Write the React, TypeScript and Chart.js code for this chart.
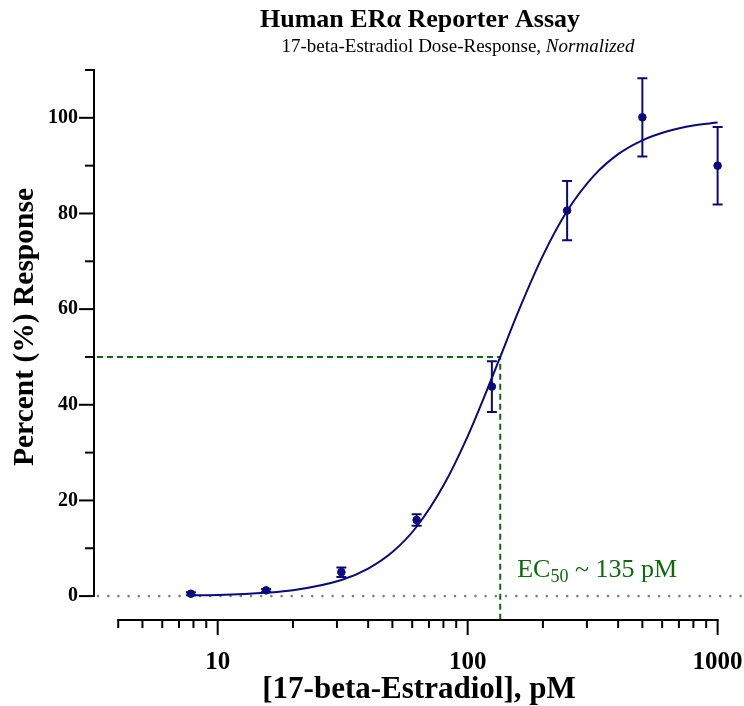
import { useEffect, useRef } from 'react';
import { Chart, registerables } from 'chart.js';

Chart.register(...registerables);

const FONT = "'Liberation Serif', 'Times New Roman', serif";

// Measured data (17-beta-Estradiol dose in pM, percent response, SD)
const doses = [7.8125, 15.625, 31.25, 62.5, 125, 250, 500, 1000];
const responses = [0.5, 1.2, 5.0, 15.9, 43.8, 80.6, 100.1, 90.0];
const errors = [0.3, 0.3, 1.0, 1.2, 5.3, 6.2, 8.2, 8.1];

// Fitted curve
const curveDoses = [7.8125, 10, 15.625, 20, 31.25, 40, 50, 62.5, 80, 100, 125, 135, 160, 200, 250, 320, 400, 500, 630, 800, 1000];
const curveValues = [0.15, 0.25, 0.7, 1.2, 3.35, 5.75, 9.2, 14.5, 23.1, 33.4, 45.6, 50, 59.7, 71.2, 80.5, 87.9, 92.4, 95.3, 97.2, 98.4, 99.0];

// Axis ticks
const xTickValues = [4, 5, 6, 7, 8, 9, 10, 20, 30, 40, 50, 60, 70, 80, 90, 100, 200, 300, 400, 500, 600, 700, 800, 900, 1000];
const xLabelValues = [10, 100, 1000];
const yTickValues = [0, 10, 20, 30, 40, 50, 60, 70, 80, 90, 100, 110];
const yLabelValues = [0, 20, 40, 60, 80, 100];

const ec50 = 135;
const ec50Response = 50;

const titleText = 'Human ERα Reporter Assay';
const subtitleMain = '17-beta-Estradiol Dose-Response, ';
const subtitleItalic = 'Normalized';
const xTitle = '[17-beta-Estradiol], pM';
const yTitle = 'Percent (%) Response';

const NAVY = '#0a0a80';
const GREEN = '#0b6b0b';

const decorPlugin = {
  id: 'decor',
  beforeDatasetsDraw(chart: any) {
    const { ctx, chartArea, scales } = chart;
    const x = scales.x;
    const y = scales.y;
    ctx.save();
    // zero reference line (dotted grey)
    ctx.strokeStyle = '#7f7f7f';
    ctx.lineWidth = 2.6;
    ctx.lineCap = 'round';
    ctx.setLineDash([0, 10.2]);
    const y0 = y.getPixelForValue(0);
    ctx.beginPath();
    ctx.moveTo(chartArea.left + 4, y0);
    ctx.lineTo(chartArea.right + 3, y0);
    ctx.stroke();
    // EC50 guides
    ctx.strokeStyle = GREEN;
    ctx.lineWidth = 2;
    ctx.lineCap = 'butt';
    ctx.setLineDash([6, 4]);
    const xe = x.getPixelForValue(ec50);
    const ye = y.getPixelForValue(ec50Response);
    ctx.beginPath();
    ctx.moveTo(chartArea.left + 3, ye);
    ctx.lineTo(xe, ye);
    ctx.lineTo(xe, chartArea.bottom);
    ctx.stroke();
    ctx.restore();
  },
  afterDatasetsDraw(chart: any) {
    const { ctx, scales } = chart;
    const x = scales.x;
    const y = scales.y;
    ctx.save();
    ctx.strokeStyle = NAVY;
    ctx.lineWidth = 2;
    ctx.setLineDash([]);
    doses.forEach((d, i) => {
      const px = x.getPixelForValue(d);
      const top = y.getPixelForValue(responses[i] + errors[i]);
      const bot = y.getPixelForValue(responses[i] - errors[i]);
      ctx.beginPath();
      ctx.moveTo(px, top);
      ctx.lineTo(px, bot);
      ctx.moveTo(px - 5, top);
      ctx.lineTo(px + 5, top);
      ctx.moveTo(px - 5, bot);
      ctx.lineTo(px + 5, bot);
      ctx.stroke();
    });
    ctx.restore();
  },
  afterDraw(chart: any) {
    const { ctx, chartArea, scales } = chart;
    const x = scales.x;
    const y = scales.y;
    ctx.save();
    ctx.strokeStyle = '#000';
    ctx.lineWidth = 2;
    ctx.setLineDash([]);
    ctx.lineCap = 'butt';
    // y axis line
    const ax = chartArea.left;
    ctx.beginPath();
    ctx.moveTo(ax, y.getPixelForValue(0) + 1);
    ctx.lineTo(ax, y.getPixelForValue(110) - 1);
    ctx.stroke();
    yTickValues.forEach((v) => {
      const py = y.getPixelForValue(v);
      const len = v % 20 === 0 ? 15 : 9;
      ctx.beginPath();
      ctx.moveTo(ax, py);
      ctx.lineTo(ax - len, py);
      ctx.stroke();
    });
    // x axis line
    const ay = chartArea.bottom;
    ctx.beginPath();
    ctx.moveTo(x.getPixelForValue(4) - 1, ay);
    ctx.lineTo(x.getPixelForValue(1000) + 1, ay);
    ctx.stroke();
    xTickValues.forEach((v) => {
      const px = x.getPixelForValue(v);
      const len = xLabelValues.includes(v) ? 15 : 8;
      ctx.beginPath();
      ctx.moveTo(px, ay);
      ctx.lineTo(px, ay + len);
      ctx.stroke();
    });
    // EC50 label
    ctx.fillStyle = GREEN;
    ctx.textBaseline = 'alphabetic';
    ctx.textAlign = 'left';
    let lx = x.getPixelForValue(ec50) + 17;
    const ly = y.getPixelForValue(0) - 19;
    ctx.font = `26px ${FONT}`;
    ctx.fillText('EC', lx, ly);
    lx += ctx.measureText('EC').width;
    ctx.font = `18px ${FONT}`;
    ctx.fillText('50', lx, ly + 5);
    lx += ctx.measureText('50').width;
    ctx.font = `26px ${FONT}`;
    ctx.fillText(' ~ 135 pM', lx, ly);
    // titles
    ctx.fillStyle = '#000';
    ctx.textAlign = 'center';
    ctx.textBaseline = 'middle';
    ctx.font = `bold 26px ${FONT}`;
    ctx.fillText(titleText, 420, 20);
    ctx.font = `19px ${FONT}`;
    const w1 = ctx.measureText(subtitleMain).width;
    ctx.font = `italic 19px ${FONT}`;
    const w2 = ctx.measureText(subtitleItalic).width;
    const sx = 458 - (w1 + w2) / 2;
    ctx.textAlign = 'left';
    ctx.font = `19px ${FONT}`;
    ctx.fillText(subtitleMain, sx, 47);
    ctx.font = `italic 19px ${FONT}`;
    ctx.fillText(subtitleItalic, sx + w1, 47);
    // axis titles
    ctx.textAlign = 'center';
    ctx.font = `bold 31px ${FONT}`;
    ctx.fillText(xTitle, 419, 690);
    ctx.translate(25, 327);
    ctx.rotate(-Math.PI / 2);
    ctx.font = `bold 29.5px ${FONT}`;
    ctx.fillText(yTitle, 0, 0);
    ctx.restore();
  },
};

export default function App() {
  const canvasRef = useRef<HTMLCanvasElement | null>(null);

  useEffect(() => {
    document.body.style.margin = '0';
    const canvas = canvasRef.current;
    if (!canvas) return;
    const chart = new Chart(canvas, {
      type: 'scatter',
      data: {
        datasets: [
          {
            type: 'line',
            label: 'Fit',
            data: curveDoses.map((d, i) => ({ x: d, y: curveValues[i] })),
            borderColor: NAVY,
            borderWidth: 2,
            pointRadius: 0,
            fill: false,
            cubicInterpolationMode: 'monotone',
            order: 2,
          } as any,
          {
            type: 'scatter',
            label: 'Data',
            data: doses.map((d, i) => ({ x: d, y: responses[i] })),
            backgroundColor: NAVY,
            borderColor: NAVY,
            pointRadius: 3.8,
            pointHoverRadius: 3.8,
            order: 1,
          },
        ],
      },
      options: {
        animation: false,
        responsive: true,
        maintainAspectRatio: false,
        events: [],
        layout: { padding: { top: 70, right: 4, left: 0, bottom: 0 } },
        plugins: {
          legend: { display: false },
          title: { display: false },
          tooltip: { enabled: false },
        },
        scales: {
          x: {
            type: 'logarithmic',
            min: 3.2,
            max: 1220,
            border: { display: false },
            grid: { drawOnChartArea: false, drawTicks: true, tickLength: 15, tickColor: 'transparent' },
            afterBuildTicks: (scale: any) => {
              scale.ticks = xTickValues.map((v) => ({ value: v }));
            },
            afterFit: (scale: any) => {
              scale.height = 86;
              scale.paddingLeft = 0;
              scale.paddingRight = 0;
            },
            ticks: {
              autoSkip: false,
              maxRotation: 0,
              padding: 13,
              color: '#000',
              font: { family: FONT, size: 25, weight: 'bold' },
              callback: (value: any) => (xLabelValues.includes(Number(value)) ? String(value) : ''),
            },
          },
          y: {
            type: 'linear',
            min: -5,
            max: 110,
            border: { display: false },
            grid: { drawOnChartArea: false, drawTicks: true, tickLength: 14, tickColor: 'transparent' },
            afterBuildTicks: (scale: any) => {
              scale.ticks = yTickValues.map((v) => ({ value: v }));
            },
            afterFit: (scale: any) => {
              scale.width = 94;
              scale.paddingTop = 0;
              scale.paddingBottom = 0;
            },
            ticks: {
              autoSkip: false,
              padding: 2,
              color: '#000',
              font: { family: FONT, size: 20, weight: 'bold' },
              callback: (value: any) => (yLabelValues.includes(Number(value)) ? String(value) : ''),
            },
          },
        },
      },
      plugins: [decorPlugin],
    });
    return () => chart.destroy();
  }, []);

  return (
    <div style={{ width: 744, height: 706, position: 'relative' }}>
      <canvas ref={canvasRef} />
    </div>
  );
}
